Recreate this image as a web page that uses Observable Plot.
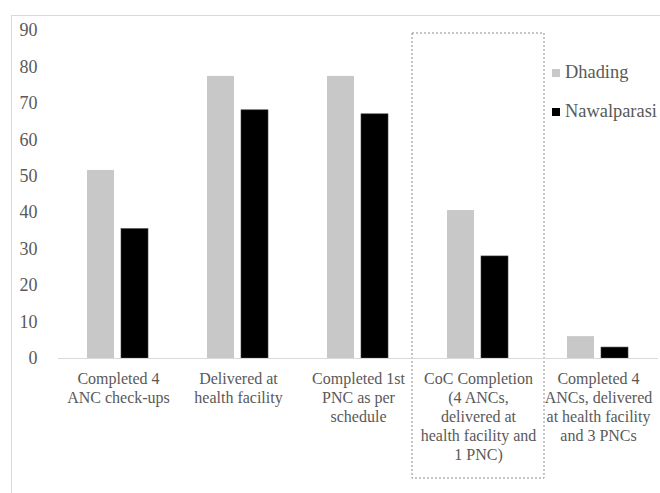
<!DOCTYPE html>
<html>
<head>
<meta charset="utf-8">
<script src="https://cdn.jsdelivr.net/npm/d3@7"></script>
<script src="https://cdn.jsdelivr.net/npm/@observablehq/plot@0.6"></script>
<style>
  html, body { margin: 0; padding: 0; background: #fff; }
  #wrap { position: relative; width: 660px; height: 493px; overflow: hidden; }
  #border { position: absolute; left: 11px; top: 15px; width: 700px; height: 600px; border: 1px solid #d9d9d9; box-sizing: border-box; }
  #chart { position: absolute; left: 0; top: 0; }
  #legend { position: absolute; left: 552px; top: 53px; font-family: "Liberation Serif", "Times New Roman", serif; font-size: 18.4px; color: #595959; }
  .item { display: flex; align-items: center; height: 39px; }
  .sw { width: 8px; height: 8px; margin-right: 5px; box-sizing: border-box; }
  #chart svg text { font-family: "Liberation Serif", "Times New Roman", serif; }
</style>
</head>
<body>
<div id="wrap">
  <div id="border"></div>
  <div id="chart"></div>
  <div id="legend"></div>
</div>
<script>
const categories = [
  "Completed 4\nANC check-ups",
  "Delivered at\nhealth facility",
  "Completed 1st\nPNC as per\nschedule",
  "CoC Completion\n(4 ANCs,\ndelivered at\nhealth facility and\n1 PNC)",
  "Completed 4\nANCs, delivered\nat health facility\nand 3 PNCs"
];
const series = ["Dhading", "Nawalparasi"];
const dhading = [51.6, 77.4, 77.4, 40.6, 6.0];
const nawalparasi = [35.5, 68.1, 67.0, 28.0, 3.0];
const yTicks = [0, 10, 20, 30, 40, 50, 60, 70, 80, 90];
const highlighted = [categories[3]];
const colors = ["#c8c8c8", "#000000"];
const serifFont = '"Liberation Serif", "Times New Roman", serif';

const data = categories.flatMap((c, i) => [
  {category: c, series: series[0], value: dhading[i]},
  {category: c, series: series[1], value: nawalparasi[i]}
]);

const chart = Plot.plot({
  width: 660,
  height: 493,
  marginLeft: 56,
  marginRight: 0,
  marginTop: 30,
  marginBottom: 135,
  style: {fontFamily: serifFont, color: "#595959", background: "transparent", overflow: "visible"},
  fx: {domain: categories, padding: 0, label: null},
  x: {domain: series, axis: null, paddingInner: 0.203, paddingOuter: 0.852},
  y: {domain: [0, 90], label: null},
  color: {domain: series, range: colors},
  marks: [
    Plot.rect(highlighted.map(c => ({category: c})), {
      fx: "category", fill: "none", stroke: "#8c8c8c", strokeWidth: 1, strokeDasharray: "2,2",
      insetLeft: -6, insetRight: -6, insetTop: 3, insetBottom: -120
    }),
    Plot.barY(data, {fx: "category", x: "series", y: "value", fill: "series",
      stroke: d => d.series === series[1] ? "#404040" : "none", strokeWidth: 0.6}),
    Plot.ruleY([0], {stroke: "#d9d9d9", strokeWidth: 1}),
    Plot.axisY({ticks: yTicks, tickSize: 0, tickPadding: 21, fontSize: 18, label: null, fill: "#595959"}),
    Plot.axisFx({anchor: "bottom", tickSize: 0, tickPadding: 12, fontSize: 16, lineHeight: 1.19, label: null, fill: "#595959"})
  ]
});
document.getElementById("chart").appendChild(chart);

const legend = document.getElementById("legend");
series.forEach((s, i) => {
  const item = document.createElement("div");
  item.className = "item";
  const sw = document.createElement("div");
  sw.className = "sw";
  sw.style.background = colors[i];
  const t = document.createElement("span");
  t.textContent = s;
  item.appendChild(sw);
  item.appendChild(t);
  legend.appendChild(item);
});
</script>
</body>
</html>
